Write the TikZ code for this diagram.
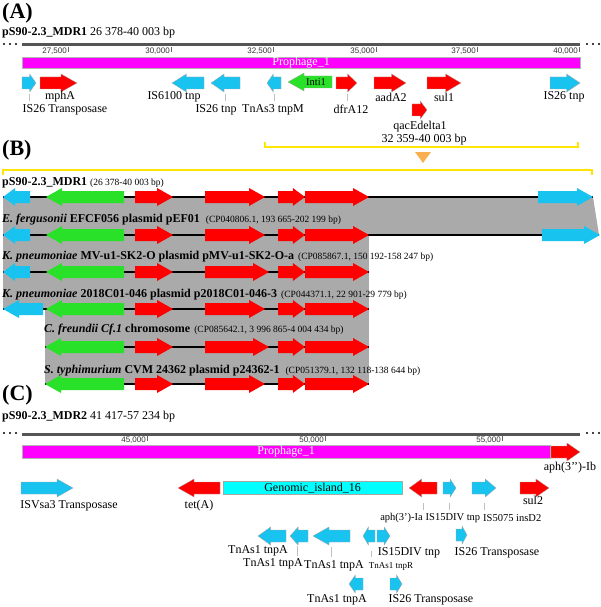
\documentclass[tikz,border=0pt]{standalone}
\usepackage{fontspec}
\setmainfont{Liberation Serif}
\setsansfont{Liberation Sans}

\definecolor{genecyan}{RGB}{25,195,240}
\definecolor{genered}{RGB}{255,0,0}
\definecolor{genegreen}{RGB}{40,225,40}
\definecolor{phagepink}{RGB}{255,0,255}
\definecolor{islandcyan}{RGB}{0,255,255}
\definecolor{homolgray}{RGB}{170,170,170}
\definecolor{brackyellow}{RGB}{255,230,0}
\definecolor{pointorange}{RGB}{248,176,80}
\definecolor{rulergray}{RGB}{85,85,85}

% gene arrow pointing right: start, end, y, style
\newcommand{\geneR}[4]{%
    \pgfmathsetmacro{\hl}{min(0.45*(#2-#1),16)}
    \filldraw[#4] (#1,#3-6) -- (#2-\hl,#3-6) -- (#2-\hl,#3-9) -- (#2,#3)
        -- (#2-\hl,#3+9) -- (#2-\hl,#3+6) -- (#1,#3+6) -- cycle;
}
% gene arrow pointing left: start, end, y, style
\newcommand{\geneL}[4]{%
    \pgfmathsetmacro{\hl}{min(0.45*(#2-#1),16)}
    \filldraw[#4] (#2,#3-6) -- (#1+\hl,#3-6) -- (#1+\hl,#3-9) -- (#1,#3)
        -- (#1+\hl,#3+9) -- (#1+\hl,#3+6) -- (#2,#3+6) -- cycle;
}
\newcommand{\acc}{\fontsize{9.5}{10}\selectfont\mdseries}

\begin{document}
\begin{tikzpicture}[x=1pt, y=-1pt,
    lbl/.style={font=\fontsize{12}{12}\selectfont, inner sep=0pt},
    sml/.style={font=\fontsize{10.5}{11}\selectfont, inner sep=0pt},
    tiny/.style={font=\fontsize{9}{9}\selectfont, inner sep=0pt},
    panel/.style={font=\fontsize{22}{22}\selectfont\bfseries, inner sep=0pt, anchor=west},
    trk/.style={font=\fontsize{12}{12}\selectfont\bfseries, inner sep=0pt, anchor=west},
    rulerlbl/.style={font=\sffamily\fontsize{8}{8}\selectfont, text=black!80, inner sep=0pt, anchor=east},
    tickmark/.style={draw=black!60, line width=0.6pt},
    labeltick/.style={draw=black!25, line width=0.8pt},
    rulerline/.style={draw=rulergray, line width=3pt},
    phagebar/.style={fill=phagepink, draw=black!30, line width=0.3pt, inner sep=0pt,
        text=white, font=\fontsize{12}{12}\selectfont, anchor=north west},
    cyangene/.style={fill=genecyan, draw=black!35, line width=0.3pt},
    redgene/.style={fill=genered, draw=black!35, line width=0.3pt},
    greengene/.style={fill=genegreen, draw=black!35, line width=0.3pt},
    flat/.style={draw=none},
    trackline/.style={draw=black, line width=1.6pt},
    bracket/.style={draw=brackyellow, line width=1.8pt},
    dots/.style={fill=black}]

    \useasboundingbox (0,0) rectangle (600,607);

    % (A)
    \node[panel] (pa) at (2,13) {(A)};
    \node[trk] (hdra) at (2,33) {pS90-2.3\_MDR1 \mdseries 26 378-40 003 bp};
    \foreach \x in {4,10,16,587,593,599}
        \fill[dots] (\x,44) circle (1.1);
    \draw[rulerline] (22,45) -- (580,45);
    \foreach \x/\t [count=\i] in {68/{27,500},171/{30,000},273/{32,500},376/{35,000},477/{37,500},579/{40,000}} {
        \draw[tickmark] (\x,47) -- (\x,52);
        \node[rulerlbl] (ta\i) at (\x-1,51.5) {\t};
    }
    \node[phagebar, minimum width=558, minimum height=11] (phagea) at (22,57) {Prophage\_1};

    \geneR{22}{36}{83}{cyangene}
    \geneR{40}{77}{83}{redgene}
    \geneL{172}{204}{83}{cyangene}
    \geneL{211}{240}{83}{cyangene}
    \geneL{267}{281}{83}{cyangene}
    \geneL{288}{332}{82}{greengene}
    \geneR{336}{357}{83}{redgene}
    \geneR{374}{406}{83}{redgene}
    \geneR{427}{461}{83}{redgene}
    \geneR{412}{427}{110}{redgene}
    \geneR{550}{580}{83}{cyangene}

    \node[sml] (inti) at (316,82) {Inti1};
    \node[lbl] (mpha) at (60,97) {mphA};
    \node[lbl] (istr) at (65,109.5) {IS26 Transposase};
    \node[lbl] (is61) at (174,97) {IS6100 tnp};
    \node[lbl] (istn) at (216,109.5) {IS26 tnp};
    \node[lbl] (tnas) at (273,109.5) {TnAs3 tnpM};
    \node[lbl] (dfra) at (351,109.5) {dfrA12};
    \node[lbl] (aada) at (391,97) {aadA2};
    \node[lbl] (sula) at (444,97) {sul1};
    \node[lbl] (qace) at (420,127) {qacEdelta1};
    \node[lbl] (isrt) at (564,97) {IS26 tnp};
    \node[lbl] (rnga) at (424,140) {32 359-40 003 bp};
    \foreach \x in {29,225,274,347}
        \draw[labeltick] (\x,94) -- (\x,101);

    \draw[bracket] (265,142) -- (265,147) -- (578,147) -- (578,142);
    \fill[pointorange] (415,152) -- (431,152) -- (423,163) -- cycle;

    % (B)
    \node[panel] (pb) at (2,150) {(B)};
    \draw[bracket] (3,175) -- (3,170) -- (592,170) -- (592,175);

    \fill[homolgray] (3,197) -- (593,197) -- (599,235) -- (3,235) -- cycle;
    \fill[homolgray] (3,235) -- (369,235) -- (369,309) -- (3,309) -- cycle;
    \fill[homolgray] (45,309) -- (369,309) -- (369,384) -- (45,384) -- cycle;

    \node[trk] (mdrb) at (2,183) {pS90-2.3\_MDR1 \acc (26 378-40 003 bp)};
    \node[trk] (efer) at (2,220) {\textit{E. fergusonii} EFCF056 plasmid pEF01\hspace{6pt}\acc (CP040806.1, 193 665-202 199 bp)};
    \node[trk] (kpma) at (2,257) {\textit{K. pneumoniae} MV-u1-SK2-O plasmid pMV-u1-SK2-O-a\hspace{4pt}\acc (CP085867.1, 150 192-158 247 bp)};
    \node[trk] (kpmb) at (2,295) {\textit{K. pneumoniae} 2018C01-046 plasmid p2018C01-046-3\hspace{4pt}\acc (CP044371.1, 22 901-29 779 bp)};
    \node[trk] (cfre) at (44,330) {\textit{C. freundii Cf.1} chromosome\hspace{4pt}\acc (CP085642.1, 3 996 865-4 004 434 bp)};
    \node[trk] (styp) at (44,371) {\textit{S. typhimurium} CVM 24362 plasmid p24362-1\hspace{6pt}\acc (CP051379.1, 132 118-138 644 bp)};

    \draw[trackline] (3,197) -- (593,197);
    \draw[trackline] (3,235) -- (599,235);
    \draw[trackline] (3,272) -- (369,272);
    \draw[trackline] (3,309) -- (369,309);
    \draw[trackline] (45,347) -- (369,347);
    \draw[trackline] (45,384) -- (369,384);

    \foreach \y/\e in {197/265,235/265,272/269,309/265,347/269,384/265} {
        \geneR{135}{173}{\y}{redgene,flat}
        \geneR{205}{\e}{\y}{redgene,flat}
        \geneR{278}{305}{\y}{redgene,flat}
        \geneR{305}{369}{\y}{redgene,flat}
    }
    \foreach \y in {197,235,272,309}
        \geneL{46}{124}{\y}{greengene,flat};
    \foreach \y in {347,384}
        \geneL{45}{124}{\y}{greengene,flat};
    \foreach \y in {197,235,272}
        \geneL{3}{30}{\y}{cyangene,flat};
    \geneL{3}{43}{309}{cyangene,flat}
    \geneR{538}{593}{197}{cyangene,flat}
    \geneR{542}{600}{235}{cyangene,flat}

    % (C)
    \node[panel] (pc) at (2,395) {(C)};
    \node[trk] (hdrc) at (2,417) {pS90-2.3\_MDR2 \mdseries 41 417-57 234 bp};
    \foreach \x in {4,10,16,587,593,599}
        \fill[dots] (\x,433) circle (1.1);
    \draw[rulerline] (22,434) -- (580,434);
    \foreach \x/\t [count=\i] in {147/{45,000},325/{50,000},502/{55,000}} {
        \draw[tickmark] (\x,436) -- (\x,441);
        \node[rulerlbl] (tc\i) at (\x-1,440.5) {\t};
    }
    \node[phagebar, minimum width=528, minimum height=13] (phagec) at (22,445) {Prophage\_1};
    \geneR{551}{580}{452}{redgene}
    \node[lbl] (aphb) at (570,468) {aph(3’’)-Ib};

    \node[fill=islandcyan, draw=black!35, line width=0.3pt, minimum width=179, minimum height=13,
        inner sep=0pt, anchor=north west, font=\fontsize{12}{12}\selectfont] (gisl) at (223,481) {Genomic\_island\_16};
    \geneR{21}{73}{488}{cyangene}
    \geneL{178}{220}{488}{redgene}
    \geneL{409}{437}{488}{redgene}
    \geneR{443}{456}{488}{cyangene}
    \geneR{472}{496}{488}{cyangene}
    \geneR{520}{549}{488}{redgene}

    \node[lbl] (isvs) at (69,506) {ISVsa3 Transposase};
    \node[lbl] (teta) at (199,506) {tet(A)};
    \node[lbl] (sulb) at (533,500) {sul2};
    \node[sml, anchor=east] (apha) at (423,518) {aph(3’)-Ia};
    \node[sml, anchor=west] (is15) at (425.5,518) {IS15DIV tnp};
    \node[sml, anchor=west] (is50) at (483,518) {IS5075 insD2};
    \foreach \x in {423,449,484}
        \draw[labeltick] (\x,503) -- (\x,510);

    \geneL{258}{286}{536}{cyangene}
    \geneL{290}{308}{536}{cyangene}
    \geneL{313}{350}{536}{cyangene}
    \geneL{363}{375}{536}{cyangene}
    \geneR{377}{390}{536}{cyangene}
    \geneR{456}{467}{535}{cyangene}
    \geneL{349}{363}{584}{cyangene}
    \geneR{390}{402}{584}{cyangene}

    \node[lbl] (tna1) at (258,551) {TnAs1 tnpA};
    \node[lbl] (tna2) at (273,563.5) {TnAs1 tnpA};
    \node[lbl] (tna3) at (334,566) {TnAs1 tnpA};
    \node[tiny] (tnar) at (391,566) {TnAs1 tnpR};
    \node[lbl] (is1b) at (409,553) {IS15DIV tnp};
    \node[lbl] (is2b) at (497,553) {IS26 Transposase};
    \node[lbl] (tna4) at (337,600) {TnAs1 tnpA};
    \node[lbl] (is2c) at (431,600) {IS26 Transposase};
    \foreach \x/\a/\b in {297/546/556,331/547/557,371/551/557}
        \draw[labeltick] (\x,\a) -- (\x,\b);
\end{tikzpicture}
\end{document}
